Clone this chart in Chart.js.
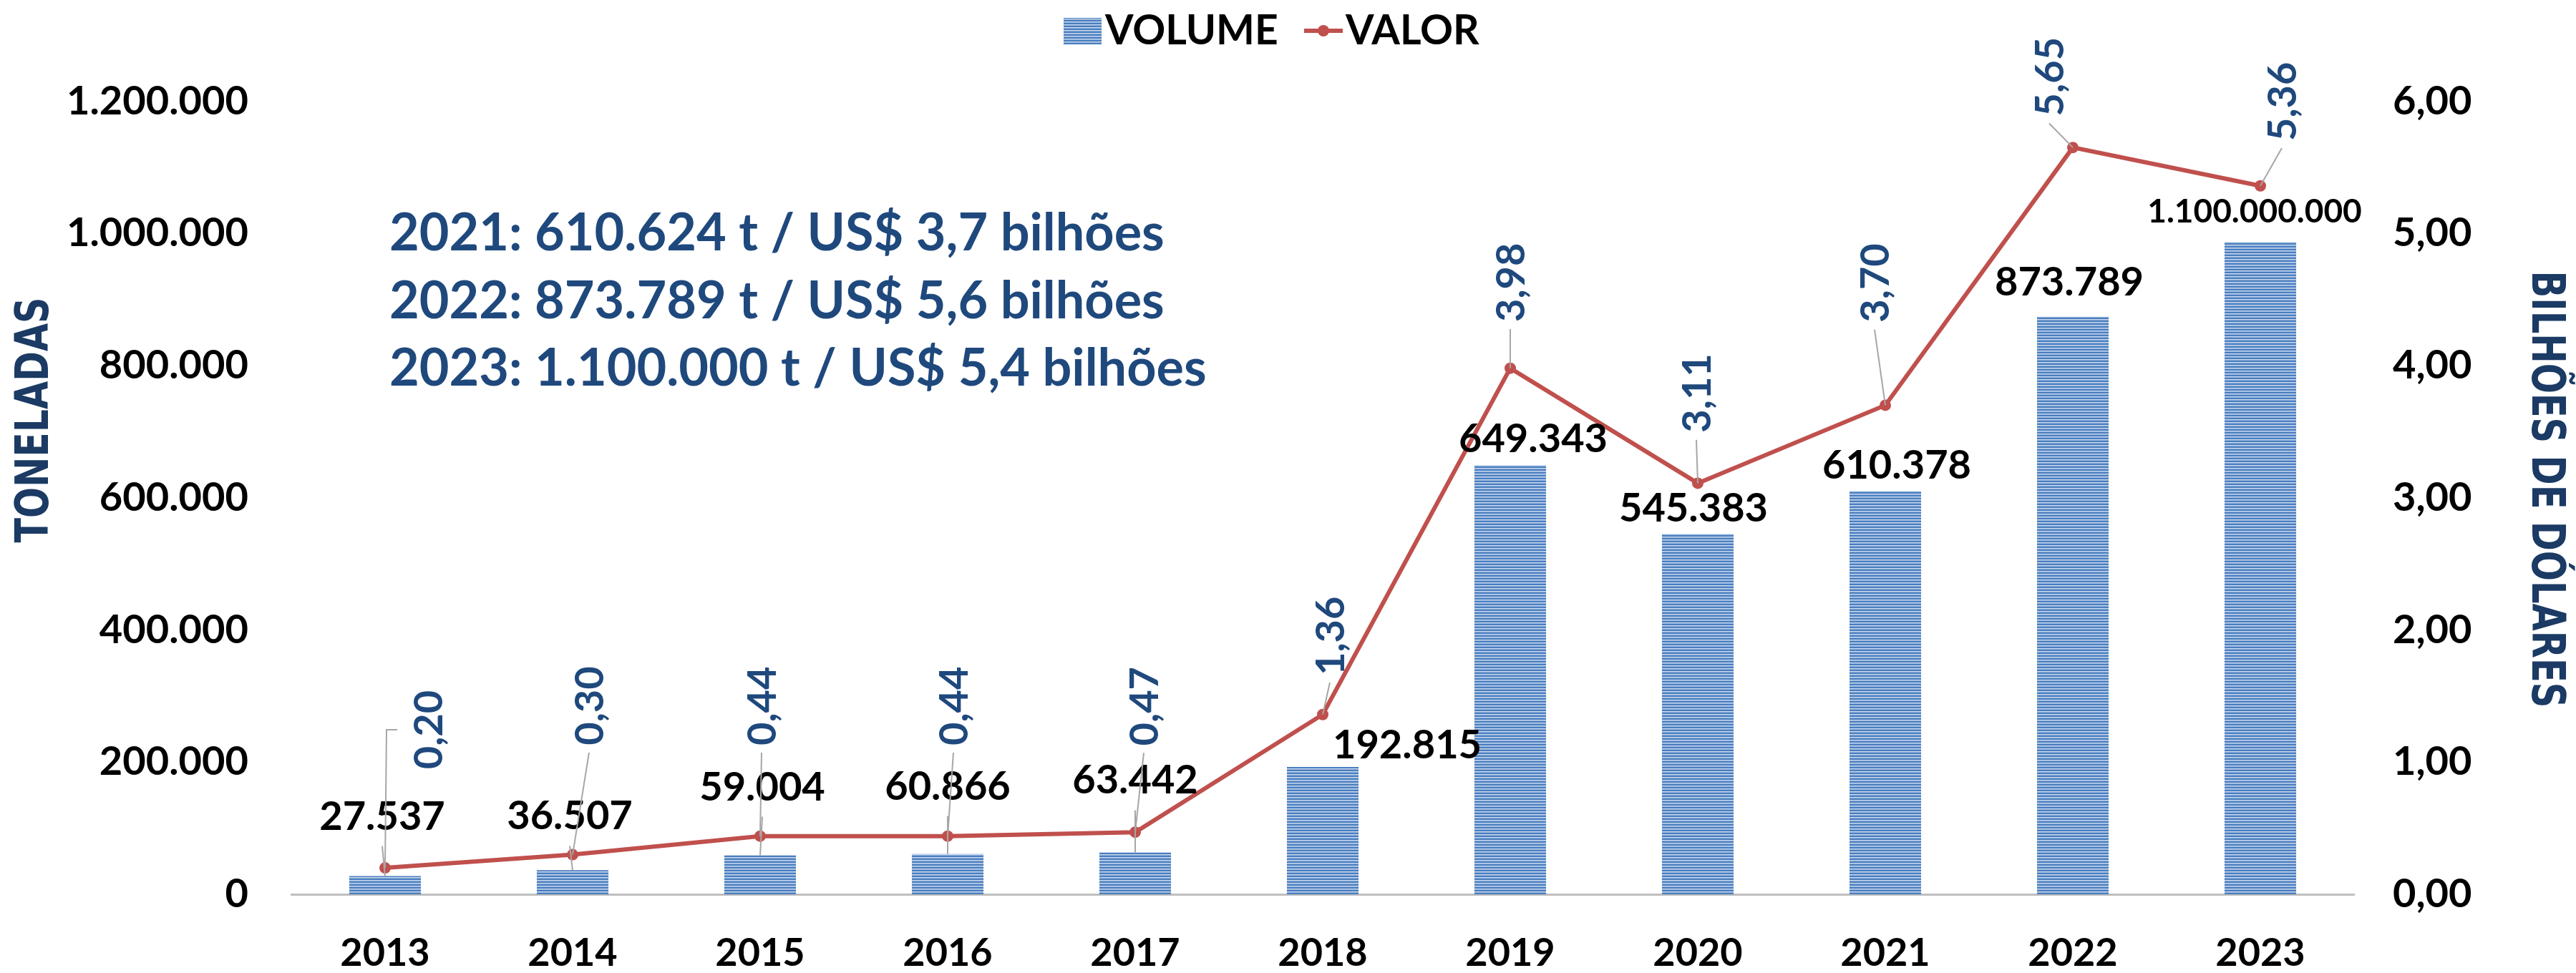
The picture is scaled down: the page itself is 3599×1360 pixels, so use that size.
<!DOCTYPE html>
<html>
<head>
<meta charset="utf-8">
<script src="https://cdn.jsdelivr.net/npm/chart.js@4.4.1/dist/chart.umd.min.js"></script>
<style>
html,body{margin:0;padding:0;background:#fff;}
#wrap{position:relative;width:3599px;height:1360px;}
</style>
</head>
<body>
<div id="wrap"><canvas id="c" width="3599" height="1360"></canvas></div>
<script>
// ---------------- DATA ----------------
const years = ['2013','2014','2015','2016','2017','2018','2019','2020','2021','2022','2023'];
const volume = [27537, 36507, 59004, 60866, 63442, 192815, 649343, 545383, 610378, 873789, 987000];
const volumeLabels = ['27.537','36.507','59.004','60.866','63.442','192.815','649.343','545.383','610.378','873.789','1.100.000.000'];
const valor = [0.20, 0.30, 0.44, 0.44, 0.47, 1.36, 3.98, 3.11, 3.70, 5.65, 5.36];
const seriesNames = ['VOLUME', 'VALOR'];
const axisTitles = ['TONELADAS', 'BILHÕES DE DÓLARES'];
const notes = [
  '2021: 610.624 t / US$ 3,7 bilhões',
  '2022: 873.789 t / US$ 5,6 bilhões',
  '2023: 1.100.000 t / US$ 5,4 bilhões'
];
const volumeMax = 1200000, volumeStep = 200000;
const valorMax = 6, valorStep = 1;

// ---------------- STYLE / LAYOUT ----------------
const FONT = "Lato, 'Open Sans', sans-serif";
const NARROW = "'Liberation Sans Narrow', 'DejaVu Sans Condensed', 'Arial Narrow', sans-serif";
const BLUE_TXT = '#1F497D';
const TITLE_COL = '#1B3A64';
const RED = '#C0504D';
// label offsets (px) relative to bar top / line point
const volOff = [[-4,-83],[-4,-75],[3,-95],[0,-94],[0,-100],[118,-30],[32,-36],[-6,-35],[16,-35],[-5,-48],[-8,-42]];
const valOff = [[62,-193],[25,-208],[4,-182],[10,-182],[14,-176],[12,-110],[2,-120],[0,-126],[-13,-171],[-31,-99],[32,-118]];
const valElbow = [true,false,false,false,false,false,false,false,false,false,false];
// axis title boxes: centre x, centre y, rotation, target length
const titleBox = [[50, 587, -1, 343], [3555, 684, 1, 611]];

function stripePattern(ctx) {
  const c = document.createElement('canvas');
  c.width = 8; c.height = 4;
  const g = c.getContext('2d');
  g.fillStyle = '#4A7EBF'; g.fillRect(0,0,8,2);
  g.fillStyle = '#C9D8EE'; g.fillRect(0,2,8,1);
  g.fillStyle = '#8FB0DA'; g.fillRect(0,3,8,1);
  return ctx.createPattern(c, 'repeat');
}

const canvas = document.getElementById('c');
const ctx0 = canvas.getContext('2d');
const pattern = stripePattern(ctx0);

function fmtThousands(v) {
  return Math.round(v).toString().replace(/\B(?=(\d{3})+(?!\d))/g, '.');
}

function line(ctx, pts, color, w) {
  ctx.beginPath();
  ctx.moveTo(pts[0][0], pts[0][1]);
  for (let i = 1; i < pts.length; i++) ctx.lineTo(pts[i][0], pts[i][1]);
  ctx.strokeStyle = color; ctx.lineWidth = w; ctx.stroke();
}

const overlay = {
  id: 'overlay',
  afterDatasetsDraw(chart) {
    const ctx = chart.ctx;
    const bars = chart.getDatasetMeta(0).data;
    const pts = chart.getDatasetMeta(1).data;
    ctx.save();
    ctx.textAlign = 'center';
    ctx.textBaseline = 'middle';
    // volume labels
    bars.forEach((b, i) => {
      const cx = b.x + volOff[i][0], cy = b.y + volOff[i][1];
      ctx.font = 'bold ' + (i === 10 ? 46 : 56) + 'px ' + FONT;
      ctx.fillStyle = '#000';
      ctx.fillText(volumeLabels[i], cx, cy);
      if (b.y - (cy + 41) > 20) line(ctx, [[cx, cy + 41], [b.x, b.y]], '#A6A6A6', 2);
    });
    // valor labels (rotated)
    pts.forEach((p, i) => {
      const txt = valor[i].toFixed(2).replace('.', ',');
      ctx.font = 'bold 56px ' + FONT;
      const len = ctx.measureText(txt).width;
      const cx = p.x + valOff[i][0], cy = p.y + valOff[i][1];
      const bottom = cy + len / 2;
      if (valElbow[i]) {
        line(ctx, [[p.x, p.y], [p.x + 2, cy], [cx - 45, cy]], '#A6A6A6', 2);
      } else if (p.y - (bottom + 10) > 14) {
        line(ctx, [[p.x, p.y], [cx - 2, bottom + 10]], '#A6A6A6', 2);
      }
      ctx.save();
      ctx.translate(cx, cy);
      ctx.rotate(-Math.PI / 2);
      ctx.fillStyle = BLUE_TXT;
      ctx.fillText(txt, 0, 0);
      ctx.restore();
    });
    ctx.restore();
  },
  afterDraw(chart) {
    const ctx = chart.ctx;
    ctx.save();
    // axis titles (condensed to the original length)
    ctx.font = 'bold 64px ' + NARROW;
    ctx.fillStyle = TITLE_COL;
    ctx.textAlign = 'center';
    ctx.textBaseline = 'middle';
    axisTitles.forEach((t, i) => {
      const [x, y, r, target] = titleBox[i];
      const w = ctx.measureText(t).width;
      ctx.save();
      ctx.translate(x, y);
      ctx.rotate(r * Math.PI / 2);
      ctx.scale(Math.min(1.15, target / w), 1);
      ctx.fillText(t, 0, 0);
      ctx.restore();
    });
    // notes
    ctx.font = 'bold 72px ' + FONT;
    ctx.fillStyle = BLUE_TXT;
    ctx.textAlign = 'left';
    ctx.textBaseline = 'alphabetic';
    notes.forEach((t, i) => ctx.fillText(t, 544, 350 + i * 94.5));
    // legend
    ctx.fillStyle = pattern;
    ctx.fillRect(1486, 25, 53, 37);
    ctx.font = 'bold 57px ' + FONT;
    ctx.fillStyle = '#000';
    ctx.fillText(seriesNames[0], 1544, 62);
    line(ctx, [[1822, 43], [1876, 43]], RED, 6);
    ctx.beginPath(); ctx.arc(1849, 43, 8, 0, Math.PI * 2); ctx.fillStyle = RED; ctx.fill();
    ctx.fillStyle = '#000';
    ctx.fillText(seriesNames[1], 1880, 62);
    ctx.restore();
  }
};

new Chart(canvas, {
  type: 'bar',
  data: {
    labels: years,
    datasets: [
      {
        type: 'bar', label: seriesNames[0], data: volume, yAxisID: 'y',
        backgroundColor: pattern, borderWidth: 0,
        categoryPercentage: 1, barPercentage: 0.382, order: 2
      },
      {
        type: 'line', label: seriesNames[1], data: valor, yAxisID: 'y1',
        borderColor: RED, backgroundColor: RED, borderWidth: 6,
        pointRadius: 8, pointHoverRadius: 8, pointBackgroundColor: RED,
        pointBorderWidth: 0, tension: 0, order: 1
      }
    ]
  },
  options: {
    responsive: false, animation: false, devicePixelRatio: 1,
    layout: { padding: { top: 141.5, bottom: 0, left: 0, right: 0 } },
    plugins: { legend: { display: false }, tooltip: { enabled: false }, title: { display: false } },
    scales: {
      x: {
        grid: { display: false, drawTicks: false },
        border: { display: true, color: '#BFBFBF', width: 3 },
        ticks: { color: '#000', font: { family: FONT, weight: 'bold', size: 54 }, padding: 50, maxRotation: 0 },
        afterFit(s) { s.height = 110; }
      },
      y: {
        position: 'left', min: 0, max: volumeMax,
        grid: { display: false, drawTicks: false }, border: { display: false },
        ticks: { stepSize: volumeStep, padding: 60, color: '#000', font: { family: FONT, weight: 'bold', size: 56 }, callback: v => fmtThousands(v) },
        afterFit(s) { s.width = 407; }
      },
      y1: {
        position: 'right', min: 0, max: valorMax,
        grid: { display: false, drawTicks: false }, border: { display: false },
        ticks: { stepSize: valorStep, padding: 54, color: '#000', font: { family: FONT, weight: 'bold', size: 56 }, callback: v => v.toFixed(2).replace('.', ',') },
        afterFit(s) { s.width = 310; }
      }
    }
  },
  plugins: [overlay]
});
</script>
</body>
</html>
